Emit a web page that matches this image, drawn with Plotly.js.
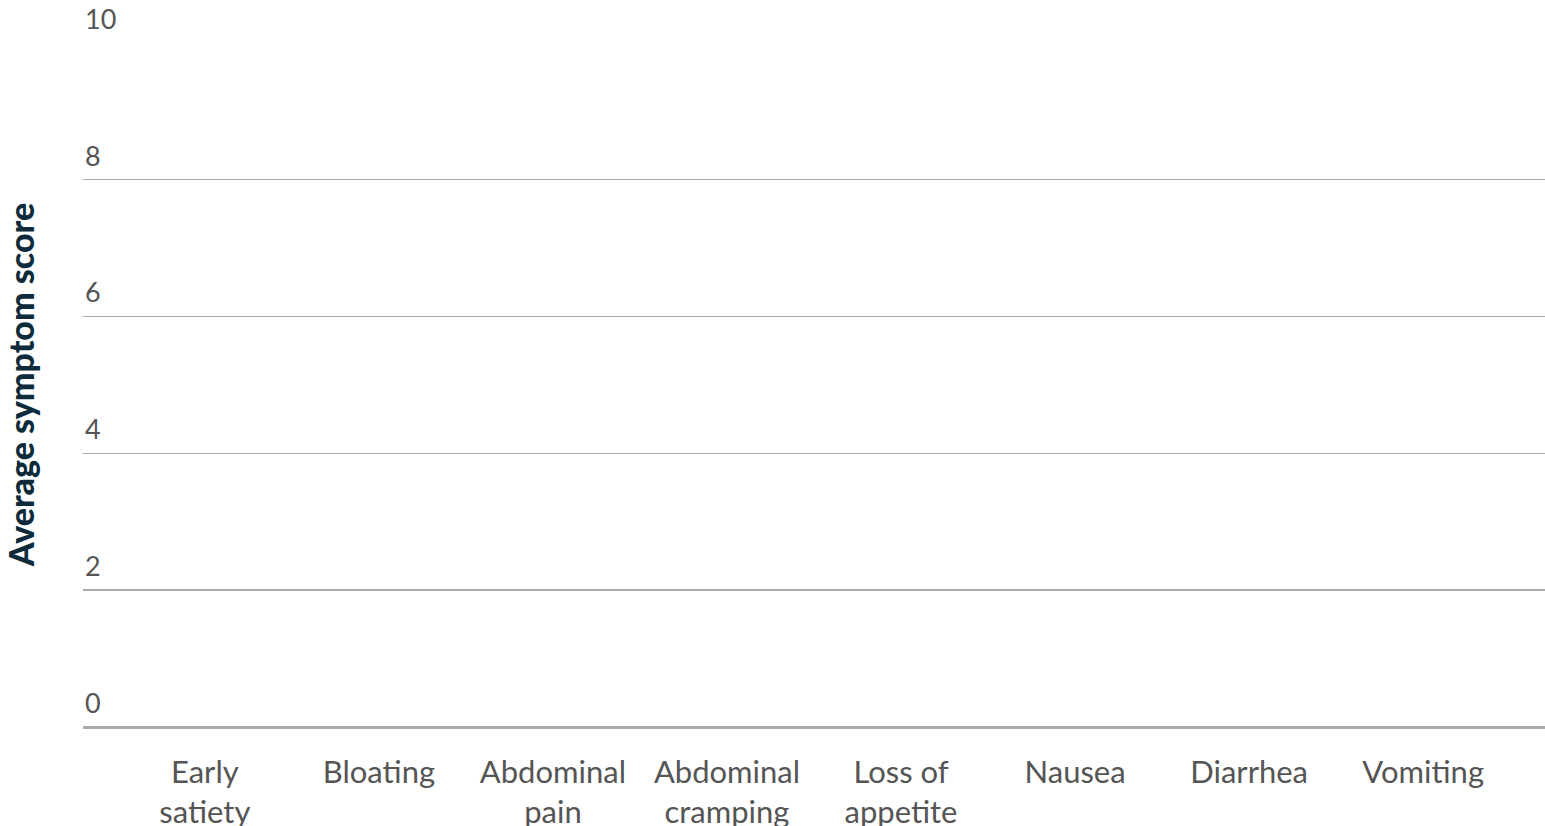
<!DOCTYPE html>
<html>
<head>
<meta charset="utf-8">
<script src="https://cdn.plot.ly/plotly-3.0.1.min.js"></script>
<style>body{margin:0;background:#fff}</style>
</head>
<body>
<div id="chart" style="width:1545px;height:826px"></div>
<script>
// Categories and scores (no bars drawn in reference)
var symptoms = ['Early<br>satiety', 'Bloating', 'Abdominal<br>pain', 'Abdominal<br>cramping',
  'Loss of<br>appetite', 'Nausea', 'Diarrhea', 'Vomiting'];
var scores = [null, null, null, null, null, null, null, null];
var yTicks = [0, 2, 4, 6, 8, 10];

var labelFont = {family: 'Lato', size: 28, color: '#555'};

var tickNotes = yTicks.map(function (v) {
  return {xref: 'paper', yref: 'y', x: 0, y: v, text: String(v), showarrow: false,
    xanchor: 'left', yanchor: 'bottom', yshift: 6, font: {family: 'Lato', size: 27, color: '#555'}};
});

Plotly.newPlot('chart', [{
  type: 'bar', x: symptoms, y: scores, marker: {color: '#0d2b3a'}, hoverinfo: 'none'
}], {
  width: 1545, height: 826,
  margin: {l: 83, r: 0, t: 42, b: 99},
  paper_bgcolor: '#fff', plot_bgcolor: '#fff',
  showlegend: false,
  font: labelFont,
  xaxis: {range: [-0.7, 7.7], showgrid: false, zeroline: false, showline: false,
    ticks: '', ticklabelstandoff: 24, tickfont: {family: 'Lato', size: 31, color: '#555'}, fixedrange: true},
  yaxis: {range: [0, 10.01], tickvals: yTicks, showticklabels: false, gridcolor: '#aaa', gridwidth: 1.5,
    zeroline: true, zerolinecolor: '#aaa', zerolinewidth: 3, showline: false,
    title: {text: 'Average symptom score', standoff: 45,
      font: {family: 'Lato', size: 34, color: '#0d2b3a', weight: 900}}},
  annotations: tickNotes
}, {staticPlot: true});
</script>
</body>
</html>
